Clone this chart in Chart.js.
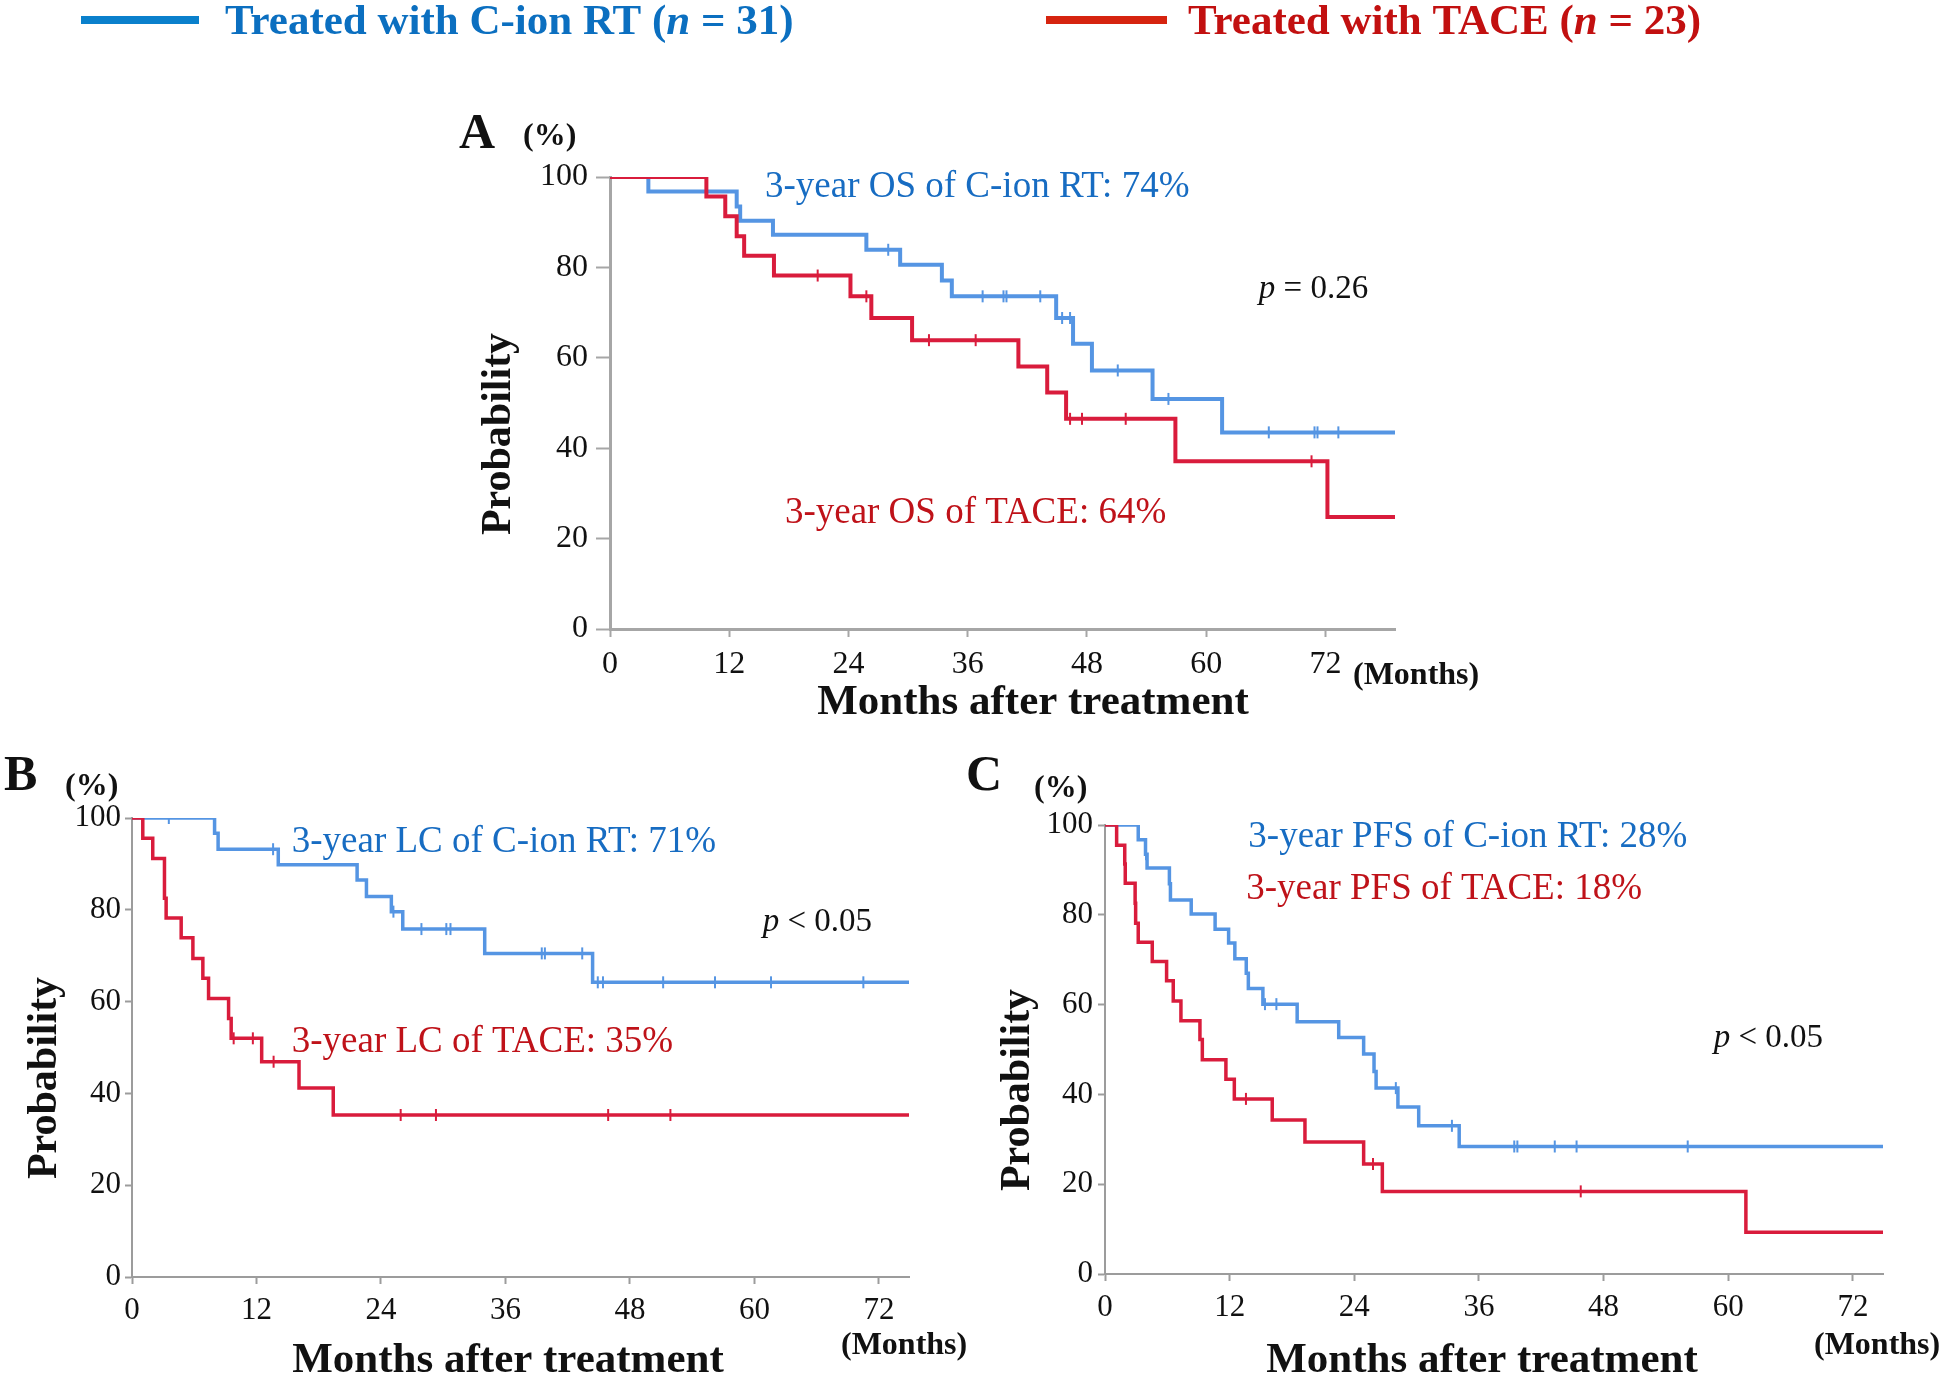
<!DOCTYPE html>
<html>
<head>
<meta charset="utf-8">
<script src="https://cdn.jsdelivr.net/npm/chart.js@4.4.1/dist/chart.umd.min.js"></script>
<style>
html,body{margin:0;padding:0;background:#fff;}
#wrap{position:relative;width:1946px;height:1378px;background:#fff;}
canvas{position:absolute;left:0;top:0;}
</style>
</head>
<body>
<div id="wrap">
<canvas id="cA" width="1946" height="1378" style="width:1946px;height:1378px"></canvas>
<canvas id="cB" width="1946" height="1378" style="width:1946px;height:1378px"></canvas>
<canvas id="cC" width="1946" height="1378" style="width:1946px;height:1378px"></canvas>
</div>
<script>
// ---------------- DATA ----------------
const xTickValues = [0, 12, 24, 36, 48, 60, 72];
const yTickValues = [0, 20, 40, 60, 80, 100];
const groupNames = ['Treated with C-ion RT', 'Treated with TACE'];
const groupN = [31, 23];

// Panel A: overall survival (months, % surviving after each drop, censor times)
const osCionMonths = [0, 3.86, 12.75, 13.1, 16.4, 25.8, 29.2, 33.4, 34.4, 44.9, 46.6, 48.5, 54.6, 61.6, 79];
const osCionPct    = [100, 96.8, 93.5, 90.3, 87.2, 83.9, 80.6, 77.1, 73.6, 68.8, 63.1, 57.2, 50.9, 43.5, 43.5];
const osCionCensored = [28.0, 37.5, 39.6, 39.9, 43.3, 45.5, 46.3, 51.1, 56.2, 66.3, 70.9, 71.2, 73.3];
const osTaceMonths = [0, 9.7, 11.6, 12.75, 13.5, 16.5, 24.2, 26.3, 30.4, 41.1, 44.0, 45.9, 56.9, 72.2, 79];
const osTacePct    = [100, 95.7, 91.3, 86.9, 82.6, 78.2, 73.6, 68.8, 63.9, 58.1, 52.3, 46.5, 37.1, 24.8, 24.8];
const osTaceCensored = [20.9, 25.8, 32.1, 36.8, 46.3, 47.5, 51.9, 70.6];

// Panel B: local control
const lcCionMonths = [0, 7.96, 8.3, 14.1, 21.7, 22.6, 25.0, 26.1, 34.0, 44.4, 74.9];
const lcCionPct    = [100, 96.7, 93.2, 89.8, 86.5, 82.9, 79.6, 75.8, 70.5, 64.2, 64.2];
const lcCionCensored = [3.55, 13.6, 25.2, 27.9, 30.3, 30.7, 39.5, 39.8, 43.4, 44.9, 45.4, 51.2, 56.2, 61.6, 70.5];
const lcTaceMonths = [0, 1.04, 2.0, 3.13, 3.29, 4.74, 5.87, 6.83, 7.38, 9.31, 9.56, 12.5, 16.1, 19.4, 74.9];
const lcTacePct    = [100, 95.6, 91.2, 82.5, 78.2, 73.9, 69.4, 65.1, 60.7, 56.3, 52.0, 46.9, 41.2, 35.3, 35.3];
const lcTaceCensored = [9.8, 11.65, 13.65, 25.9, 29.3, 45.9, 51.9];

// Panel C: progression-free survival
const pfsCionMonths = [0, 3.2, 3.9, 4.05, 6.2, 6.3, 8.3, 10.6, 11.9, 12.5, 13.6, 13.8, 15.2, 18.5, 22.5, 24.9, 25.9, 26.1, 28.2, 30.2, 34.1, 74.9];
const pfsCionPct    = [100, 96.7, 93.5, 90.4, 86.9, 83.3, 80.2, 76.8, 73.7, 70.2, 67.0, 63.6, 60.1, 56.2, 52.7, 49.0, 45.1, 41.4, 37.2, 33.0, 28.4, 28.4];
const pfsCionCensored = [3.95, 15.4, 16.5, 28.0, 33.4, 39.4, 39.7, 43.3, 45.4, 56.1];
const pfsTaceMonths = [0, 1.12, 1.9, 1.95, 2.9, 2.95, 3.2, 4.55, 5.93, 6.57, 7.31, 9.14, 9.37, 11.64, 12.45, 16.1, 19.25, 24.9, 26.7, 61.7, 74.9];
const pfsTacePct    = [100, 95.5, 91.3, 87.0, 82.6, 78.1, 73.9, 69.6, 65.3, 60.8, 56.4, 52.2, 47.7, 43.4, 39.0, 34.3, 29.4, 24.5, 18.4, 9.3, 9.3];
const pfsTaceCensored = [13.57, 25.8, 45.8];

// Annotation texts
const panelLetters = ['A', 'B', 'C'];
const cionNotes = ['3-year OS of C-ion RT: 74%', '3-year LC of C-ion RT: 71%', '3-year PFS of C-ion RT: 28%'];
const taceNotes = ['3-year OS of TACE: 64%', '3-year LC of TACE: 35%', '3-year PFS of TACE: 18%'];
const pValueNotes = ['= 0.26', '< 0.05', '< 0.05'];

// ---------------- STYLE ----------------
const SERIF = '"Liberation Serif", "Times New Roman", Times, serif';
const BLUE_LINE = '#5595e3';
const RED_LINE = '#d91c3c';
const BLUE_TEXT = '#176cc2';
const RED_TEXT = '#bf1219';
const CW = 1946, CH = 1378;

function stepValue(months, pct, t) {
  let v = pct[0];
  for (let i = 0; i < months.length; i++) if (months[i] <= t) v = pct[i];
  return v;
}
function curve(months, pct) { return months.map((m, i) => ({x: m, y: pct[i]})); }
function censors(months, pct, times) { return times.map(t => ({x: t, y: stepValue(months, pct, t)})); }

function drawRich(ctx, x, y, segs, align) {
  let total = 0;
  segs.forEach(s => { ctx.font = s.font; total += ctx.measureText(s.text).width; });
  let cx = align === 'center' ? x - total / 2 : (align === 'right' ? x - total : x);
  ctx.textAlign = 'left';
  ctx.textBaseline = 'alphabetic';
  segs.forEach(s => {
    ctx.font = s.font; ctx.fillStyle = s.color;
    ctx.fillText(s.text, cx, y);
    cx += ctx.measureText(s.text).width;
  });
}

const textPlugin = {
  id: 'panelText',
  afterDraw(chart, args, opts) {
    const ctx = chart.ctx;
    const xs = chart.scales.x, ys = chart.scales.y;
    ctx.save();
    (opts.rects || []).forEach(r => { ctx.fillStyle = r.color; ctx.fillRect(r.x, r.y, r.w, r.h); });
    (opts.items || []).forEach(it => {
      let px = it.x, py = it.y;
      if (it.data) { px = xs.getPixelForValue(it.x); py = ys.getPixelForValue(it.y); }
      if (it.rotate) {
        ctx.save();
        ctx.translate(px, py);
        ctx.rotate(-Math.PI / 2);
        drawRich(ctx, 0, 0, it.segs, it.align || 'left');
        ctx.restore();
      } else {
        drawRich(ctx, px, py, it.segs, it.align || 'left');
      }
    });
    ctx.restore();
  }
};

function makePanel(id, p) {
  const HX = 60, WY = 80;
  const datasets = [
    {type: 'line', data: curve(p.cM, p.cP), borderColor: BLUE_LINE, borderWidth: p.lw, stepped: true, pointRadius: 0, fill: false, order: 2},
    {type: 'line', data: curve(p.tM, p.tP), borderColor: RED_LINE, borderWidth: p.lw, stepped: true, pointRadius: 0, fill: false, order: 1},
    {type: 'scatter', data: censors(p.cM, p.cP, p.cC), borderColor: BLUE_LINE, backgroundColor: BLUE_LINE, pointStyle: 'line', rotation: 90, pointRadius: 6, borderWidth: 2, order: 0},
    {type: 'scatter', data: censors(p.tM, p.tP, p.tC), borderColor: RED_LINE, backgroundColor: RED_LINE, pointStyle: 'line', rotation: 90, pointRadius: 6, borderWidth: 2, order: 0}
  ];
  return new Chart(document.getElementById(id), {
    type: 'line',
    data: {datasets},
    options: {
      responsive: false, animation: false, devicePixelRatio: 1,
      layout: {padding: {left: p.area.left - WY, top: p.area.top, right: CW - p.area.right, bottom: CH - p.area.bottom - HX}},
      plugins: {legend: {display: false}, tooltip: {enabled: false}, panelText: {items: p.items, rects: p.rects || []}},
      scales: {
        x: {
          type: 'linear', min: 0, max: p.xMax,
          afterBuildTicks: s => { s.ticks = xTickValues.map(v => ({value: v})); },
          afterFit: s => { s.height = HX; },
          grid: {display: true, drawOnChartArea: false, drawTicks: true, tickLength: p.xTickLen, tickColor: p.axisColor, tickWidth: 2},
          border: {display: true, color: p.axisColor, width: p.axisWidth},
          ticks: {font: {family: SERIF, size: p.tickSize}, color: '#111', padding: p.xPad, maxRotation: 0, autoSkip: false}
        },
        y: {
          type: 'linear', min: 0, max: 100,
          afterBuildTicks: s => { s.ticks = yTickValues.map(v => ({value: v})); },
          afterFit: s => { s.width = WY; },
          grid: {display: true, drawOnChartArea: false, drawTicks: true, tickLength: p.yTickLen, tickColor: p.axisColor, tickWidth: 2},
          border: {display: true, color: p.axisColor, width: p.axisWidth},
          ticks: {font: {family: SERIF, size: p.tickSize}, color: '#111', padding: p.yPad, autoSkip: false}
        }
      }
    },
    plugins: [textPlugin]
  });
}

const B = (s) => 'bold ' + s + 'px ' + SERIF;
const R = (s) => s + 'px ' + SERIF;
const I = (s) => 'italic ' + s + 'px ' + SERIF;
const BI = (s) => 'italic bold ' + s + 'px ' + SERIF;
const K = '#111';

function commonItems(idx, L) {
  return [
    {x: L.letter[0], y: L.letter[1], segs: [{text: panelLetters[idx], font: B(50), color: K}]},
    {x: L.pct[0], y: L.pct[1], segs: [{text: '(%)', font: B(32), color: K}]},
    {x: L.prob[0], y: L.prob[1], rotate: true, align: 'center', segs: [{text: 'Probability', font: B(42), color: K}]},
    {x: L.mat[0], y: L.mat[1], align: 'center', segs: [{text: 'Months after treatment', font: B(43), color: K}]},
    {x: L.mon[0], y: L.mon[1], segs: [{text: '(Months)', font: B(32), color: K}]},
    {data: true, x: L.cion[0], y: L.cion[1], segs: [{text: cionNotes[idx], font: R(37), color: BLUE_TEXT}]},
    {data: true, x: L.tace[0], y: L.tace[1], segs: [{text: taceNotes[idx], font: R(37), color: RED_TEXT}]},
    {data: true, x: L.p[0], y: L.p[1], segs: [{text: 'p', font: I(33), color: K}, {text: ' ' + pValueNotes[idx], font: R(33), color: K}]}
  ];
}

// Panel A
const itemsA = commonItems(0, {
  letter: [459, 148], pct: [523, 145], prob: [510, 434], mat: [1033, 714], mon: [1353, 684],
  cion: [15.6, 95.6], tace: [17.6, 23.5], p: [65.3, 73.3]
}).concat([
  {x: 225, y: 34, segs: [{text: groupNames[0] + ' (', font: B(43), color: '#0b6fc0'}, {text: 'n', font: BI(43), color: '#0b6fc0'}, {text: ' = ' + groupN[0] + ')', font: B(43), color: '#0b6fc0'}]},
  {x: 1188, y: 34, segs: [{text: groupNames[1] + ' (', font: B(43), color: '#c21010'}, {text: 'n', font: BI(43), color: '#c21010'}, {text: ' = ' + groupN[1] + ')', font: B(43), color: '#c21010'}]}
]);
makePanel('cA', {
  cM: osCionMonths, cP: osCionPct, cC: osCionCensored,
  tM: osTaceMonths, tP: osTacePct, tC: osTaceCensored,
  area: {left: 610, top: 177, right: 1395, bottom: 629}, xMax: 79,
  lw: 4, axisColor: '#a6a6a6', axisWidth: 3, tickSize: 32,
  xTickLen: 8, xPad: 8, yTickLen: 14, yPad: 8,
  items: itemsA,
  rects: [{x: 81, y: 16, w: 118, h: 8, color: '#0a80cc'}, {x: 1046, y: 16, w: 121, h: 8, color: '#d6240f'}]
});

// Panel B
makePanel('cB', {
  cM: lcCionMonths, cP: lcCionPct, cC: lcCionCensored,
  tM: lcTaceMonths, tP: lcTacePct, tC: lcTaceCensored,
  area: {left: 132, top: 818, right: 909, bottom: 1277}, xMax: 74.9,
  lw: 3.5, axisColor: '#9c9c9c', axisWidth: 2, tickSize: 31,
  xTickLen: 7, xPad: 8, yTickLen: 7, yPad: 4,
  items: commonItems(1, {
    letter: [4, 790], pct: [65, 795], prob: [56, 1078], mat: [508, 1372], mon: [841, 1354],
    cion: [15.4, 92.6], tace: [15.4, 49.0], p: [60.8, 75.4]
  })
});

// Panel C
makePanel('cC', {
  cM: pfsCionMonths, cP: pfsCionPct, cC: pfsCionCensored,
  tM: pfsTaceMonths, tP: pfsTacePct, tC: pfsTaceCensored,
  area: {left: 1105, top: 825, right: 1883, bottom: 1274}, xMax: 74.9,
  lw: 3.5, axisColor: '#9c9c9c', axisWidth: 2, tickSize: 31,
  xTickLen: 7, xPad: 8, yTickLen: 7, yPad: 5,
  items: commonItems(2, {
    letter: [966, 790], pct: [1034, 797], prob: [1029, 1090], mat: [1482, 1372], mon: [1814, 1354],
    cion: [13.8, 95.1], tace: [13.6, 83.5], p: [58.6, 50.6]
  })
});
</script>
</body>
</html>
